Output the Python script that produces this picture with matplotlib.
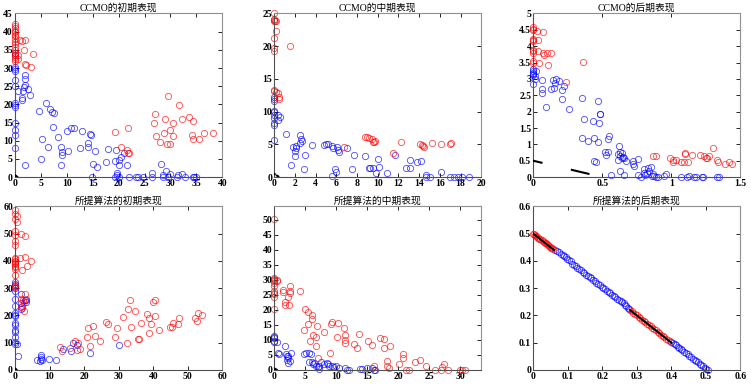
import numpy as np
import matplotlib
matplotlib.use('Agg')
import matplotlib.pyplot as plt

plt.rcParams['font.family'] = ['Liberation Serif', 'Noto Sans CJK SC']

# 真实PF的两段
pf_x1 = [0.0, 0.06]
pf_y1 = [0.5, 0.44]
pf_x2 = [0.28, 0.40]
pf_y2 = [0.22, 0.10]

# CCMO 初期
p1_red_x = [0, 0, 0, 0, 0, 0, 0, 0, 0, 0, 0, 0, 0, 0, 0, 0, 0,
            0.5, 0.6, 1.0, 1.4, 2.0, 1.8, 2.0, 2.1, 3.1, 3.5,
            27.1, 26.8, 27.3, 27.9, 29.0, 28.7, 29.6, 29.4, 29.9, 30.0, 30.4, 30.5,
            31.7, 32.3, 33.5, 34.4, 34.2, 34.4, 35.5, 36.4, 38.2,
            19.2, 21.8, 20.4, 21.7, 21.8, 22.0]
p1_red_y = [42, 41.5, 41, 40.3, 39.8, 39.2, 38.7, 38, 37.2, 36.5, 35.8, 35, 34.2, 33.5, 33, 32.5, 31.8,
            33.5, 32.4, 37.7, 37.4, 37.8, 34.9, 31.0, 30.8, 30.3, 33.9,
            17.3, 14.8, 11.3, 9.6, 16.1, 12.2, 22.3, 9.1, 9.1, 13.0, 15.0, 11.3,
            19.9, 16.1, 16.6, 15.5, 11.5, 10.6, 10.6, 12.2, 12.0,
            12.4, 13.5, 8.2, 7.4, 6.7, 6.7]
p1_blue_x = [0, 0, 0, 0, 0, 0, 0, 0, 0, 0, 0, 0, 0, 0,
             0.5, 1.4, 1.4, 1.9, 1.9, 2.0, 1.8, 1.5, 2.6, 2.9, 1.9,
             4.7, 5.0, 5.3, 6.3, 6.0, 6.8, 7.2, 7.6, 7.4, 8.2, 8.8, 9.1, 9.1, 8.8,
             10.0, 10.3, 10.8, 11.4, 12.6, 12.9, 14.0, 14.1, 14.4, 14.6, 14.9, 15.5, 15.1, 15.8,
             17.6, 17.9, 19.2, 19.5, 19.6, 19.7, 19.2, 20.0, 20.1, 20.0, 20.4, 21.0, 21.7, 22.0,
             23.3, 23.8, 24.7, 26.5, 26.5, 28.1, 28.6, 28.6, 29.2, 29.5, 29.9, 31.2, 31.5, 32.3,
             32.8, 34.4, 34.6, 34.9]
p1_blue_y = [34.2, 33.7, 30.2, 29.6, 29.1, 26.8, 25.0, 20.4, 19.7, 19.2, 14.9, 13.0, 11.7, 8.0,
             23.8, 21.8, 21.3, 28.2, 27.1, 25.4, 24.7, 23.6, 24.3, 22.7, 3.2,
             18.1, 4.9, 10.4, 8.2, 20.5, 18.6, 17.9, 17.5, 13.9, 10.9, 8.2, 6.9, 6.2, 3.2,
             12.6, 7.3, 13.5, 13.5, 8.0, 12.6, 9.3, 8.4, 11.8, 11.5, 0.0, 7.3, 3.6, 2.7,
             4.1, 7.8, 4.5, 7.4, 1.0, 0.5, 0.0, 0.0, 3.4, 4.7, 5.4, 6.5, 3.4, 0.0,
             0.0, 0.0, 0.0, 0.0, 1.0, 3.6, 0.0, 0.6, 1.6, 0.0, 0.8, 0.0, 0.5, 0.8,
             0.0, 0.0, 0.0, 0.0]

# CCMO 中期
p2_red_x = [0, 0, 0, 0, 0, 0, 0, 0, 0, 0.1, 0.2, 0.15, 1.5,
            0.2, 0.35, 0.5, 0.5,
            8.8, 9.0, 9.2, 9.4, 9.5, 9.6, 9.7,
            6.7, 11.5, 12.2, 14.1, 14.3, 14.4, 14.5, 15.2, 16.1, 17.0, 17.1]
p2_red_y = [25, 24.2, 24.0, 23.8, 21.3, 19.8, 19.2, 13.3, 13.1, 23.9, 23.8, 22.3, 20.1,
            13.0, 12.8, 12.3, 12.0,
            6.1, 6.2, 6.0, 5.8, 5.4, 5.4, 5.5,
            4.6, 3.7, 5.3, 5.1, 4.9, 4.8, 4.6, 5.2, 5.1, 5.1, 5.2]
p2_blue_x = [0, 0, 0, 0, 0, 0, 0, 0, 0, 0, 0.35, 0.4, 0.55,
             1.1, 1.8, 2.0, 2.0, 2.1, 2.15, 1.6, 2.5, 2.6, 2.7, 2.5, 3.0, 2.9, 3.7,
             4.85, 5.0, 5.2, 5.6, 5.7, 5.55, 5.9, 6.0, 6.1, 6.2, 6.25, 7.0, 7.5, 7.7,
             8.8, 9.2, 9.3, 9.5, 9.8, 10.0, 10.1, 10.9, 11.7, 12.7, 13.1, 13.1, 13.8, 14.2,
             14.7, 14.7, 15.0, 16.1, 17.0, 17.4, 17.75, 18.1, 18.8]
p2_blue_y = [12.3, 12.0, 11.6, 10.1, 9.9, 9.5, 9.1, 8.3, 7.9, 5.7, 9.5, 8.8, 9.2,
             6.6, 4.6, 3.3, 4.0, 4.7, 4.5, 1.9, 6.4, 5.8, 5.5, 5.2, 3.4, 1.2, 4.9,
             4.9, 5.0, 5.1, 4.8, 4.4, 0.2, 1.2, 0.8, 4.6, 4.1, 3.9, 4.4, 1.2, 3.4,
             3.3, 1.4, 1.4, 1.4, 0.6, 2.7, 1.5, 0.6, 3.4, 1.4, 1.4, 2.6, 2.3, 2.4,
             0.3, 0.0, 0.0, 0.8, 0.0, 0.0, 0.0, 0.0, 0.0]

# CCMO 后期
p3_red_x = [0, 0, 0, 0, 0, 0, 0, 0, 0, 0, 0,
            0.03, 0.07, 0.035, 0.035, 0.07, 0.08, 0.10, 0.13, 0.045, 0.105, 0.36, 0.24,
            0.87, 0.885, 0.99, 1.01, 1.01, 1.035, 1.07, 1.10, 1.10, 1.09, 1.12, 1.15,
            1.205, 1.235, 1.25, 1.27, 1.26, 1.30, 1.33, 1.335, 1.39, 1.42, 1.44]
p3_red_y = [4.58, 4.54, 4.48, 4.23, 4.19, 4.15, 3.89, 3.84, 3.80, 3.56, 3.50,
            4.46, 4.44, 4.19, 3.84, 3.80, 3.72, 3.78, 3.78, 3.48, 3.42, 3.52, 2.92,
            0.65, 0.66, 0.57, 0.51, 0.45, 0.51, 0.47, 0.74, 0.72, 0.47, 0.45, 0.67,
            0.67, 0.65, 0.59, 0.63, 0.57, 0.88, 0.51, 0.45, 0.41, 0.45, 0.41]
p3_blue_x = [0, 0, 0, 0, 0, 0, 0.015, 0.02, 0.015,
             0.065, 0.06, 0.065, 0.09, 0.14, 0.165, 0.16, 0.19, 0.13, 0.15, 0.21, 0.225, 0.21, 0.26,
             0.35, 0.37, 0.35, 0.40, 0.435, 0.44, 0.47, 0.475, 0.47, 0.48, 0.48, 0.44, 0.455,
             0.52, 0.53, 0.54, 0.54, 0.55, 0.56, 0.62, 0.615, 0.625, 0.63, 0.645, 0.65, 0.625,
             0.615, 0.64, 0.66, 0.67, 0.66, 0.72, 0.72, 0.73, 0.755, 0.76, 0.80, 0.80, 0.81,
             0.83, 0.82, 0.84, 0.85, 0.86, 0.87, 0.875, 0.89, 0.95, 0.96, 0.78, 0.90,
             1.07, 1.11, 1.13, 1.16, 1.18, 1.22, 1.23, 1.33, 1.345]
p3_blue_y = [3.29, 3.23, 3.19, 3.15, 3.11, 2.86, 3.09, 3.23, 3.00,
             2.98, 2.70, 2.56, 2.15, 2.97, 2.99, 2.88, 2.94, 2.70, 2.72, 2.66, 2.78, 2.39, 2.09,
             2.41, 1.78, 1.19, 1.10, 1.70, 1.21, 1.08, 1.64, 2.33, 1.94, 1.92, 0.49, 0.45,
             0.76, 0.67, 0.76, 1.15, 1.25, 0.06, 0.96, 0.72, 0.65, 0.78, 0.74, 0.61, 0.20,
             0.53, 0.57, 0.59, 0.49, 0.06, 0.49, 0.41, 0.33, 0.55, 0.06, 0.25, 0.14, 0.06,
             0.27, 0.14, 0.18, 0.31, 0.02, 0.08, 0.04, 0.0, 0.04, 0.10, 0.0, 0.0,
             0.0, 0.0, 0.02, 0.0, 0.0, 0.0, 0.0, 0.0, 0.0]

# 所提算法 初期
p4_red_x = [0, 0, 0, 0, 0, 0, 0, 0, 0, 0, 0, 0, 0, 0, 0, 0, 0, 0, 0,
            0.6, 0.6, 1.4, 1.7, 2.9, 2.9, 3.5, 4.7, 1.9,
            1.6, 2.3, 2.9, 3.3, 2.7, 1.8, 2.5, 2.1,
            13.0, 13.6, 15.9, 17.3, 18.2, 18.0, 18.8, 21.2, 20.8, 21.6, 22.7, 23.1, 24.5,
            26.2, 26.8, 28.9, 29.5, 31.3, 32.4, 32.8, 33.4, 33.6, 34.8, 35.7, 35.9, 36.5,
            38.3, 38.8, 38.8, 39.4, 39.8, 40.4, 40.6, 41.6, 44.9, 45.4, 45.8, 47.2, 47.6,
            52.2, 52.6, 53.0, 54.2]
p4_red_y = [58.5, 57.3, 55.3, 50.9, 49.4, 47.2, 45.8, 41.1, 40.6, 40.1, 39.7, 39.2, 38.7, 38.2,
            37.7, 37.2, 35.0, 31.1, 30.6,
            56.5, 54.3, 40.9, 49.7, 49.2, 41.4, 38.2, 39.9, 36.5,
            26.2, 25.7, 27.9, 25.9, 25.0, 23.0, 21.8, 22.8,
            8.6, 7.1, 8.1, 10.5, 10.0, 7.3, 7.8, 15.4, 12.2, 8.8, 16.2, 12.5, 10.5,
            17.6, 16.9, 12.0, 15.4, 19.6, 9.8, 22.5, 25.5, 15.9, 21.5, 11.5, 11.3, 17.1,
            20.6, 18.9, 13.5, 16.9, 25.0, 19.8, 25.7, 14.7, 15.7, 15.9, 17.4, 16.9, 19.1,
            18.9, 17.9, 20.8, 20.3]
p4_blue_x = [0, 0, 0, 0, 0, 0, 0, 0, 0, 0, 0, 0, 0, 0, 0, 0, 0,
             0.6, 0.8, 1.7, 1.9, 2.9, 3.3, 3.1, 1.6, 1.7,
             6.4, 7.4, 7.4, 7.4, 7.2, 7.8, 9.7, 11.8, 14.0, 16.1, 16.7, 18.0, 21.6, 30.1]
p4_blue_y = [32.3, 31.6, 30.8, 29.9, 28.9, 25.9, 23.3, 20.8, 20.3, 19.8, 17.4, 16.4, 14.7, 14.0,
             12.0, 10.3, 9.5,
             9.5, 5.1, 27.9, 23.3, 25.7, 25.5, 25.0, 24.5, 22.5,
             3.7, 5.4, 4.7, 3.9, 3.4, 3.7, 4.2, 3.7, 7.6, 7.1, 9.8, 9.3, 6.4, 9.1]

# 所提算法 中期
p5_red_x = [0.05, 0, 0, 0, 0, 0, 0, 0, 0, 0, 0, 0, 0.4, 0.5,
            1.4, 1.4, 1.7, 1.7, 2.3, 2.4, 2.5, 2.6, 2.6, 4.2,
            4.8, 5.0, 5.4, 5.5, 5.8, 6.1, 6.1, 6.3, 6.9, 6.8, 6.8, 7.0, 8.1, 9.0, 9.1, 9.4,
            10.3, 10.2, 11.3, 11.4, 11.5, 11.5, 12.9, 13.3, 13.6, 15.1, 15.8, 16.1,
            17.1, 17.7, 17.7, 18.2, 18.7, 18.2, 18.5, 20.1, 20.8, 20.7, 21.3, 21.7,
            22.7, 23.5, 24.4, 25.9, 26.9, 27.0, 27.3, 28.0, 29.9, 30.3, 30.7]
p5_red_y = [50.4, 30.8, 30.4, 29.9, 29.5, 29.0, 28.1, 26.4, 25.7, 25.3, 24.2, 20.2, 29.5, 29.9,
            26.8, 25.9, 22.8, 21.7, 24.4, 21.7, 27.9, 26.4, 25.7, 26.4,
            13.4, 20.2, 19.3, 15.3, 9.6, 18.2, 16.9, 11.8, 14.5, 11.1, 8.1, 4.1, 12.7, 5.6, 15.3, 16.0,
            15.8, 11.1, 14.0, 11.6, 10.0, 8.9, 8.5, 7.4, 12.0, 9.6, 8.3, 1.2,
            10.7, 10.3, 7.4, 3.0, 8.1, 1.2, 0.5, 2.1, 5.2, 3.9, 0.0, 0.0,
            2.5, 3.4, 1.2, 0.0, 0.0, 1.0, 2.1, 0.0, 0.0, 0.0, 0.0]
p5_blue_x = [0, 0, 0, 0, 0, 0.5, 0.7, 0.8,
             1.7, 1.9, 2.1, 2.2, 2.3, 2.1, 2.3, 2.6, 2.7,
             4.8, 5.2, 5.6, 6.0, 5.6, 6.1, 6.3, 6.5, 6.7, 7.0, 7.2, 7.3, 7.6,
             8.1, 8.5, 8.7, 8.9, 9.3, 9.7, 10.0, 10.5, 11.4, 11.7, 12.0,
             13.9, 14.2, 14.9, 15.7, 16.3, 16.1]
p5_blue_y = [11.4, 10.9, 10.5, 9.8, 9.2, 9.4, 5.8, 5.2,
             8.1, 5.2, 4.5, 4.1, 4.7, 3.2, 2.3, 3.0, 5.6,
             5.4, 5.8, 5.6, 5.2, 2.8, 2.8, 1.9, 2.3, 1.4, 1.0, 1.4, 0.3, 2.5,
             2.1, 2.3, 1.9, 1.4, 1.2, 1.0, 1.4, 0.6, 0.8, 0.0, 0.0,
             0.3, 0.3, 0.6, 0.6, 0.0, 0.0]

# 所提算法 后期
p6_red_x = [0.000, 0.003, 0.006, 0.009, 0.012, 0.015, 0.018, 0.021, 0.024, 0.027,
            0.030, 0.033, 0.036, 0.039, 0.042, 0.045, 0.048, 0.051, 0.054, 0.057,
            0.280, 0.285, 0.290, 0.295, 0.300, 0.305, 0.310, 0.315, 0.320, 0.325, 0.330, 0.335,
            0.340, 0.345, 0.350, 0.355, 0.360, 0.365, 0.370, 0.375, 0.380, 0.385, 0.390, 0.395]
p6_red_y = [0.500, 0.497, 0.494, 0.491, 0.488, 0.485, 0.482, 0.479, 0.476, 0.473,
            0.470, 0.467, 0.464, 0.461, 0.458, 0.455, 0.452, 0.449, 0.446, 0.443,
            0.221, 0.215, 0.210, 0.205, 0.200, 0.195, 0.190, 0.185, 0.180, 0.175, 0.170, 0.165,
            0.160, 0.155, 0.150, 0.145, 0.140, 0.135, 0.130, 0.125, 0.120, 0.115, 0.110, 0.106]
p6_blue_x = [0.062, 0.068, 0.074, 0.080, 0.085, 0.090, 0.094, 0.099, 0.104, 0.108, 0.113, 0.118,
             0.123, 0.128, 0.133, 0.138, 0.143, 0.148, 0.153, 0.158, 0.163, 0.168, 0.173, 0.178,
             0.183, 0.188, 0.193, 0.198, 0.203, 0.208, 0.213, 0.218, 0.223, 0.228, 0.233, 0.238,
             0.243, 0.248, 0.253, 0.258, 0.262, 0.266, 0.270, 0.274, 0.278,
             0.400, 0.405, 0.410, 0.414, 0.418, 0.423, 0.428, 0.432, 0.437, 0.442, 0.447, 0.452,
             0.457, 0.462, 0.467, 0.472, 0.477, 0.482, 0.487, 0.492, 0.497, 0.501, 0.505]
p6_blue_y = [0.440, 0.436, 0.431, 0.425, 0.420, 0.417, 0.413, 0.408, 0.402, 0.398, 0.390, 0.385,
             0.380, 0.374, 0.371, 0.366, 0.360, 0.355, 0.350, 0.345, 0.340, 0.336, 0.330, 0.325,
             0.320, 0.315, 0.310, 0.305, 0.300, 0.296, 0.291, 0.286, 0.281, 0.276, 0.270, 0.266,
             0.261, 0.256, 0.252, 0.248, 0.244, 0.240, 0.235, 0.228, 0.224,
             0.104, 0.100, 0.095, 0.090, 0.086, 0.081, 0.076, 0.072, 0.067, 0.062, 0.057, 0.052,
             0.047, 0.042, 0.038, 0.033, 0.028, 0.023, 0.018, 0.013, 0.008, 0.004, 0.000]

titles = ['CCMO的初期表现', 'CCMO的中期表现', 'CCMO的后期表现',
          '所提算法的初期表现', '所提算法的中期表现', '所提算法的后期表现']

panels = [
    (p1_red_x, p1_red_y, p1_blue_x, p1_blue_y, (0, 40), (0, 45), np.arange(0, 41, 5), np.arange(0, 46, 5)),
    (p2_red_x, p2_red_y, p2_blue_x, p2_blue_y, (0, 20), (0, 25), np.arange(0, 21, 2), np.arange(0, 26, 5)),
    (p3_red_x, p3_red_y, p3_blue_x, p3_blue_y, (0, 1.5), (0, 5), [0, 0.5, 1, 1.5], np.arange(0, 5.1, 0.5)),
    (p4_red_x, p4_red_y, p4_blue_x, p4_blue_y, (0, 60), (0, 60), np.arange(0, 61, 10), np.arange(0, 61, 10)),
    (p5_red_x, p5_red_y, p5_blue_x, p5_blue_y, (0, 33.4), (0, 54.5), np.arange(0, 31, 5), np.arange(0, 51, 5)),
    (p6_red_x, p6_red_y, p6_blue_x, p6_blue_y, (0, 0.6), (0, 0.6), np.arange(0, 0.61, 0.1), np.arange(0, 0.61, 0.1)),
]

lefts = [0.020, 0.365, 0.710]
bottoms = [0.540, 0.039]

fig = plt.figure(figsize=(7.51, 3.85), dpi=100)

def fmt(v):
    s = '%g' % round(v, 3)
    return s

for i, (rx, ry, bx, by, xl, yl, xt, yt) in enumerate(panels):
    ax = fig.add_axes([lefts[i % 3], bottoms[i // 3], 0.276, 0.425])
    ax.plot(bx, by, 'o', mfc='none', mec=(0, 0, 1, 0.7), ms=4.5, mew=0.6, clip_on=False)
    ax.plot(rx, ry, 'o', mfc='none', mec=(1, 0, 0, 0.7), ms=4.5, mew=0.6, clip_on=False)
    ax.plot(pf_x1, pf_y1, 'k-', lw=1.5, zorder=5)
    ax.plot(pf_x2, pf_y2, 'k-', lw=1.5, zorder=5)
    ax.set_xlim(xl)
    ax.set_ylim(yl)
    ax.set_xticks(xt)
    ax.set_yticks(yt)
    ax.set_xticklabels([fmt(v) for v in xt], fontweight='bold')
    ax.set_yticklabels([fmt(v) for v in yt], fontweight='bold')
    ax.tick_params(direction='in', top=True, right=True, length=3, width=0.6,
                   labelsize=7, pad=1.5)
    for sp in ax.spines.values():
        sp.set_color('#909090')
        sp.set_linewidth(0.8)
    ax.spines['left'].set_color('#505050')
    ax.spines['bottom'].set_color('#505050')
    ax.set_title(titles[i], fontsize=7, pad=2, family=['Liberation Serif', 'Noto Sans CJK SC'])

fig.savefig('out.png', dpi=100)
